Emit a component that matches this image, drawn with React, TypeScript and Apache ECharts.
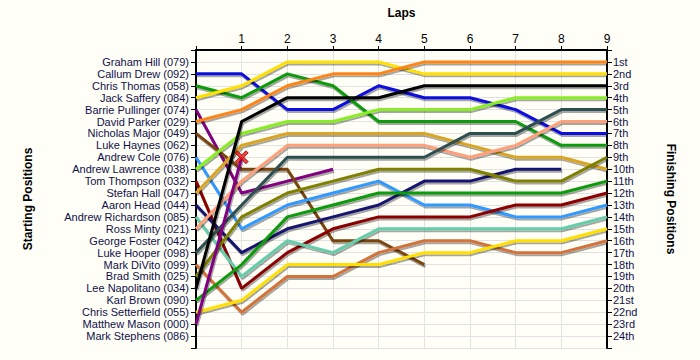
import React, { useEffect, useRef } from "react";
import * as echarts from "echarts";

const laps = ["0", "1", "2", "3", "4", "5", "6", "7", "8", "9"];

const startNames = [
  "Graham Hill (079)", "Callum Drew (092)", "Chris Thomas (058)", "Jack Saffery (084)",
  "Barrie Pullinger (074)", "David Parker (029)", "Nicholas Major (049)", "Luke Haynes (062)",
  "Andrew Cole (076)", "Andrew Lawrence (038)", "Tom Thompson (032)", "Stefan Hall (047)",
  "Aaron Head (044)", "Andrew Richardson (085)", "Ross Minty (021)", "George Foster (042)",
  "Luke Hooper (098)", "Mark DiVito (099)", "Brad Smith (025)", "Lee Napolitano (034)",
  "Karl Brown (090)", "Chris Setterfield (055)", "Matthew Mason (000)", "Mark Stephens (086)",
];

const finishLabels = [
  "1st", "2nd", "3rd", "4th", "5th", "6th", "7th", "8th", "9th", "10th", "11th", "12th",
  "13th", "14th", "15th", "16th", "17th", "18th", "19th", "20th", "21st", "22nd", "23rd", "24th",
];

// positions by lap (index = lap number)
const grahamHill = [1, 1];
const callumDrew = [2, 2, 5, 5, 3, 4, 4, 5, 7, 7];
const chrisThomas = [3, 4, 2, 3, 6, 6, 6, 6, 8, 8];
const jackSaffery = [4, 3, 1, 1, 1, 2, 2, 2, 2, 2];
const barriePullinger = [5, 12, 11, 10];
const davidParker = [6, 5, 3, 2, 2, 1, 1, 1, 1, 1];
const nicholasMajor = [7, 10, 10, 16, 16, 18];
const andrewCole = [9, 15, 13, 12, 11, 13, 13, 14, 14, 13];
const andrewLawrence = [10, 7, 6, 6, 5, 5, 5, 4, 4, 4];
const tomThompson = [11, 20, 17, 15, 14, 14, 14, 13, 13, 12];
const stefanHall = [12, 8, 7, 7, 7, 7, 8, 9, 9, 10];
const aaronHead = [13, 17, 15, 14, 13, 11, 11, 10, 10];
const andrewRichardson = [14, 19, 16, 17, 15, 15, 15, 15, 15, 14];
const rossMinty = [15, 11, 8, 8, 8, 8, 9, 8, 6, 6];
const georgeFoster = [16, 16];
const lukeHooper = [17, 13, 9, 9, 9, 9, 7, 7, 5, 5];
const markDiVito = [18, 22, 19, 19, 17, 16, 16, 17, 17, 16];
const bradSmith = [19, 14, 12, 11, 10, 10, 10, 11, 11, 9];
const leeNapolitano = [20, 6, 4, 4, 4, 3, 3, 3, 3, 3];
const karlBrown = [21, 18, 14, 13, 12, 12, 12, 12, 12, 11];
const chrisSetterfield = [22, 21, 18, 18, 18, 17, 17, 16, 16, 15];
const matthewMason = [23, 9];

// crash marker [lap, position]
const crashPoints = [[1, 9]];

const drivers: [string, number[], string][] = [
  ["Graham Hill (079)", grahamHill, "#e00000"],
  ["Callum Drew (092)", callumDrew, "#0a0ae0"],
  ["Chris Thomas (058)", chrisThomas, "#0a9a0a"],
  ["Jack Saffery (084)", jackSaffery, "#ffe000"],
  ["Barrie Pullinger (074)", barriePullinger, "#800080"],
  ["David Parker (029)", davidParker, "#ff8418"],
  ["Nicholas Major (049)", nicholasMajor, "#7a4510"],
  ["Andrew Cole (076)", andrewCole, "#3399ff"],
  ["Andrew Lawrence (038)", andrewLawrence, "#88ee22"],
  ["Tom Thompson (032)", tomThompson, "#8b0000"],
  ["Stefan Hall (047)", stefanHall, "#daa520"],
  ["Aaron Head (044)", aaronHead, "#191970"],
  ["Andrew Richardson (085)", andrewRichardson, "#66cdaa"],
  ["Ross Minty (021)", rossMinty, "#ffa07a"],
  ["George Foster (042)", georgeFoster, "#9370db"],
  ["Luke Hooper (098)", lukeHooper, "#2f4f4f"],
  ["Mark DiVito (099)", markDiVito, "#d2733a"],
  ["Brad Smith (025)", bradSmith, "#808000"],
  ["Lee Napolitano (034)", leeNapolitano, "#000000"],
  ["Karl Brown (090)", karlBrown, "#0a9a0a"],
  ["Chris Setterfield (055)", chrisSetterfield, "#ffe000"],
  ["Matthew Mason (000)", matthewMason, "#800080"],
];

const BG = "#fffff7";
const LABEL_COLOR = "#10104a";
const FONT = "Liberation Sans, Arial, sans-serif";

export default function App() {
  const ref = useRef<HTMLDivElement>(null);
  useEffect(() => {
    if (!ref.current) return;
    const chart = echarts.init(ref.current, undefined, { renderer: "svg" });
    const lineSeries = drivers.map(([name, pos, color]) => ({
      name,
      type: "line",
      xAxisIndex: 0,
      yAxisIndex: 0,
      symbol: "none",
      data: pos.map((p, i) => [Number(laps[i]), p]),
      lineStyle: {
        width: 3,
        color,
        shadowColor: "rgba(0,0,0,0.35)",
        shadowBlur: 1,
        shadowOffsetX: 1,
        shadowOffsetY: 2,
      },
      itemStyle: { color },
      z: 3,
    }));
    const gridLine = { show: true, lineStyle: { color: "#e2e2e2", width: 1 } };
    chart.setOption({
      animation: false,
      backgroundColor: BG,
      textStyle: { fontFamily: FONT },
      grid: { left: 196, right: 93, top: 50, height: 298 },
      xAxis: {
        type: "value",
        position: "top",
        min: 0,
        max: 9,
        interval: 1,
        name: "Laps",
        nameLocation: "middle",
        nameGap: 31,
        nameTextStyle: { fontWeight: "bold", fontSize: 12, color: "#000", fontFamily: FONT },
        axisLine: { show: true, onZero: false, lineStyle: { color: "#000", width: 2 } },
        axisTick: { show: true, length: 4, lineStyle: { color: "#000" } },
        axisLabel: {
          margin: 5,
          fontSize: 12,
          color: "#000",
          fontFamily: FONT,
          formatter: (v: number) => (v === 0 ? "" : String(v)),
        },
        splitLine: gridLine,
      },
      yAxis: [
        {
          type: "value",
          inverse: true,
          position: "left",
          min: 0,
          max: 25,
          interval: 1,
          name: "Starting Positions",
          nameLocation: "middle",
          nameRotate: 90,
          nameGap: 162,
          nameTextStyle: { fontWeight: "bold", fontSize: 12, color: "#000", fontFamily: FONT },
          axisLine: { show: true, onZero: false, lineStyle: { color: "#000", width: 2 } },
          axisTick: { show: true, length: 5, lineStyle: { color: "#000" } },
          axisLabel: {
            margin: 7,
            fontSize: 11,
            lineHeight: 11,
            color: LABEL_COLOR,
            fontFamily: FONT,
            showMinLabel: true,
            showMaxLabel: true,
            formatter: (v: number) => startNames[v - 1] ?? "",
          },
          splitLine: gridLine,
        },
        {
          type: "value",
          inverse: true,
          position: "right",
          min: 0,
          max: 25,
          interval: 1,
          name: "Finishing Positions",
          nameLocation: "middle",
          nameRotate: -90,
          nameGap: 58,
          nameTextStyle: { fontWeight: "bold", fontSize: 12, color: "#000", fontFamily: FONT },
          axisLine: { show: true, onZero: false, lineStyle: { color: "#000", width: 2 } },
          axisTick: { show: true, length: 5, lineStyle: { color: "#000" } },
          axisLabel: {
            margin: 6,
            fontSize: 11,
            lineHeight: 11,
            color: LABEL_COLOR,
            fontFamily: FONT,
            formatter: (v: number) => finishLabels[v - 1] ?? "",
          },
          splitLine: { show: false },
        },
      ],
      series: [
        ...lineSeries,
        {
          name: "Crash",
          type: "scatter",
          xAxisIndex: 0,
          yAxisIndex: 0,
          data: crashPoints,
          symbol:
            "path://M2,0 L6,4 L10,0 L12,2 L8,6 L12,10 L10,12 L6,8 L2,12 L0,10 L4,6 L0,2 Z",
          symbolSize: 13,
          itemStyle: { color: "#ee1111", borderColor: "#800000", borderWidth: 1 },
          z: 5,
        },
      ],
    });
    return () => chart.dispose();
  }, []);
  return (
    <div
      style={{ position: "fixed", left: 0, top: 0, width: 700, height: 360, background: BG }}
    >
      <div ref={ref} style={{ width: 700, height: 360 }} />
    </div>
  );
}
